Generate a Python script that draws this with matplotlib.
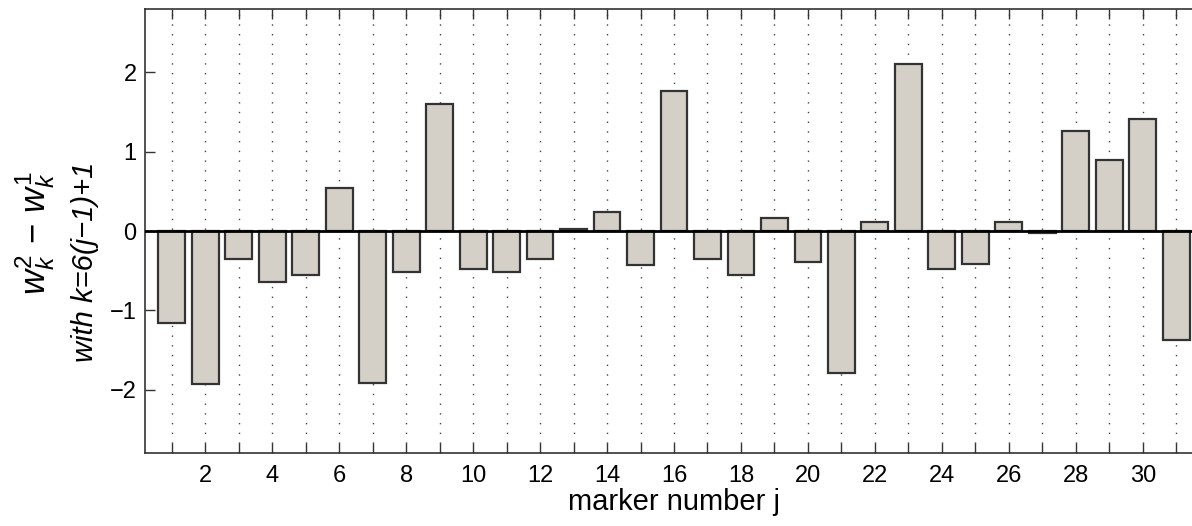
import matplotlib
matplotlib.use("Agg")
import matplotlib.pyplot as plt
import numpy as np

plt.rcParams['font.family'] = ['Liberation Sans', 'DejaVu Sans']
plt.rcParams['mathtext.fontset'] = 'custom'
plt.rcParams['mathtext.rm'] = 'Liberation Sans'
plt.rcParams['mathtext.it'] = 'Liberation Sans:italic'

# marker number j and weight difference w2_k - w1_k, k = 6(j-1)+1
markers = np.arange(1, 32)
diffs = [-1.16, -1.93, -0.35, -0.64, -0.55, 0.54, -1.92, -0.52, 1.60, -0.48,
         -0.52, -0.35, 0.02, 0.24, -0.43, 1.76, -0.35, -0.55, 0.17, -0.39,
         -1.79, 0.11, 2.11, -0.48, -0.41, 0.11, -0.02, 1.26, 0.90, 1.415,
         -1.37]
tick_labels = [str(j) if j % 2 == 0 else '' for j in markers]

W, H = 1192, 526
fig = plt.figure(figsize=(W / 100, H / 100), dpi=100)
ax = fig.add_axes([145 / W, 1 - 453 / H, 1058 / W, 444 / H])

ax.set_axisbelow(True)
ax.bar(markers, diffs, width=0.8, color='#d4d0c8', edgecolor='#333333',
       linewidth=1.6, zorder=2)
ax.axhline(0, color='black', linewidth=2.0, zorder=3)

ax.set_xlim(0.2, 31.8)
ax.set_ylim(-2.8, 2.8)
ax.set_xticks(markers)
ax.set_xticklabels(tick_labels)
ax.set_yticks([-2, -1, 0, 1, 2])
ax.grid(axis='x', linestyle=(0, (1, 6)), color='#444444', linewidth=1.0)

ax.tick_params(direction='in', top=True, right=True, length=7, width=1.0,
               labelsize=17, color='#333333')
ax.tick_params(axis='x', pad=9)
ax.tick_params(axis='y', pad=6)
for s in ax.spines.values():
    s.set_color('#333333')
    s.set_linewidth(1.2)

ax.set_xlabel('marker number j', fontsize=21, labelpad=0)

# two-line y label, drawn as separate texts
fig.text(35 / W, 1 - 233 / H, r'$w_k^2 \,-\, w_k^1$', fontsize=25,
         rotation=90, ha='center', va='center')
fig.text(85 / W, 1 - 262 / H, 'with k=6(j\u22121)+1', fontsize=21,
         style='italic', rotation=90, ha='center', va='center')

fig.savefig('out.png', dpi=100)
